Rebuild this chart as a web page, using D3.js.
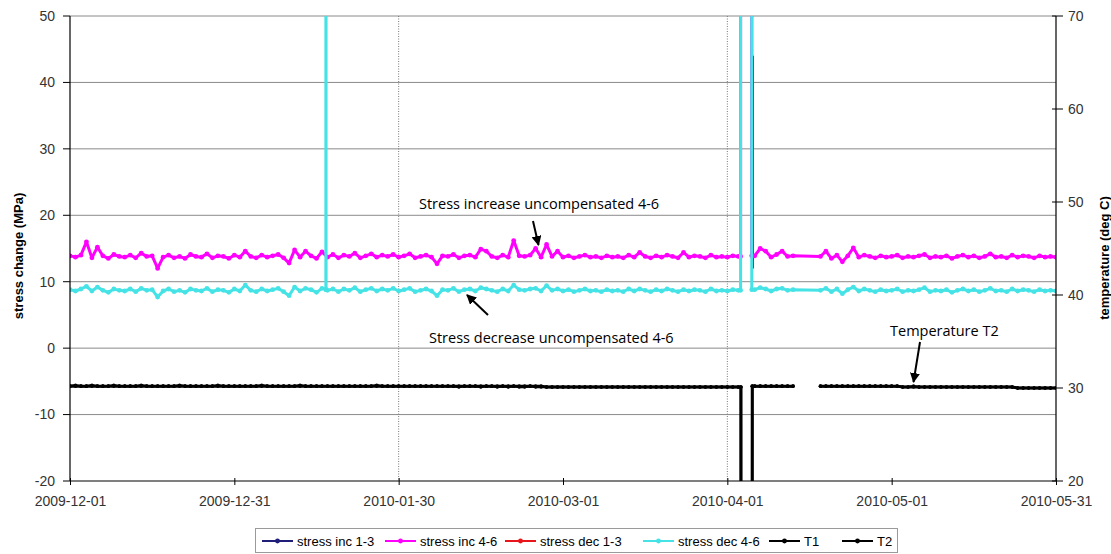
<!DOCTYPE html>
<html>
<head>
<meta charset="utf-8">
<script src="https://cdn.jsdelivr.net/npm/d3@7"></script>
<style>
  html, body { margin: 0; padding: 0; background: #fff; }
  svg { display: block; }
</style>
</head>
<body>
<svg id="chart" width="1111" height="554"></svg>
<script>
// ---------------- DATA ----------------
// x positions are days since 2009-12-01
const xTickDays = [0, 30, 60, 90, 120, 150, 180];
const xTickLabels = ["2009-12-01", "2009-12-31", "2010-01-30", "2010-03-01", "2010-04-01", "2010-05-01", "2010-05-31"];
const markerLineDays = [60, 120];               // dotted vertical reference lines
const leftTicks = [-20, -10, 0, 10, 20, 30, 40, 50];
const rightTicks = [20, 30, 40, 50, 60, 70];

const seriesNames = ["stress inc 1-3", "stress inc 4-6", "stress dec 1-3", "stress dec 4-6", "T1", "T2"];
const seriesColors = ["#1f1f7a", "#ff00ff", "#e8161b", "#45e3e6", "#000000", "#000000"];

// daily readings (MPa), day 0 .. 180, null = no reading
const stressInc46 = [
  13.9, 13.7, 14.0, 16.0, 13.6, 15.2, 13.9, 13.5, 14.1, 13.8,
  13.7, 14.0, 13.6, 14.3, 13.8, 13.9, 12.0, 13.7, 14.0, 13.6,
  13.8, 13.5, 14.1, 13.8, 13.7, 14.2, 13.6, 13.9, 13.8, 13.5,
  14.0, 13.7, 14.6, 13.8, 13.6, 14.0, 13.7, 13.9, 14.1, 13.6,
  12.8, 14.8, 13.7, 14.6, 13.9, 13.5, 14.5, 13.7, 14.1, 13.6,
  14.0, 13.8, 14.3, 13.6, 13.9, 14.2, 13.7, 14.0, 13.8, 14.1,
  13.7, 13.9, 14.2, 13.6, 13.8, 14.0, 13.7, 12.7, 13.9, 13.8,
  14.1, 13.6, 13.9, 14.0, 13.7, 14.9, 14.6, 13.8, 13.6, 14.0,
  13.7, 16.2, 13.9, 13.8, 14.0, 15.0, 13.7, 15.6, 13.8, 14.6,
  13.7, 13.9, 13.6, 13.8, 14.0, 13.7, 13.8, 13.6, 13.9, 13.7,
  13.8, 13.6, 14.0, 13.7, 14.4, 13.8, 13.6, 13.9, 13.7, 14.0,
  13.8, 13.6, 14.4, 13.7, 13.9, 13.8, 13.6, 14.0, 13.7, 13.8,
  13.7, 13.9, 13.8, null, null, 13.9, 15.0, 14.6, 13.7, 14.1,
  14.6, 13.8, 13.9, null, null, null, null, 13.8, 14.6, 13.5,
  14.0, 13.0, 13.9, 15.1, 13.7, 14.0, 13.8, 13.6, 13.9, 13.7,
  13.8, 14.0, 13.6, 13.8, 13.7, 13.9, 14.1, 13.6, 13.8, 13.7,
  13.9, 13.5, 13.8, 14.0, 13.7, 13.9, 13.6, 13.8, 14.2, 13.7,
  13.8, 13.6, 14.0, 13.7, 13.9, 13.8, 13.6, 13.9, 13.7, 13.8,
  13.7
];
const stressDec46 = [
  8.8, 8.6, 8.9, 9.3, 8.6, 9.2, 8.7, 8.4, 8.9, 8.7,
  8.6, 8.9, 8.5, 9.0, 8.7, 8.8, 7.7, 8.6, 8.9, 8.5,
  8.7, 8.4, 8.9, 8.7, 8.6, 9.0, 8.5, 8.8, 8.7, 8.4,
  8.9, 8.6, 9.5, 8.7, 8.5, 8.9, 8.6, 8.8, 9.0, 8.5,
  7.9, 9.2, 8.6, 9.0, 8.8, 8.4, 9.0, 8.7, 8.9, 8.5,
  8.9, 8.7, 9.1, 8.5, 8.8, 9.0, 8.6, 8.9, 8.7, 9.0,
  8.6, 8.8, 9.0, 8.5, 8.7, 8.9, 8.6, 7.9, 8.8, 8.7,
  9.0, 8.5, 8.8, 8.9, 8.6, 9.1, 8.9, 8.7, 8.5, 8.9,
  8.6, 9.5, 8.8, 8.7, 8.9, 9.0, 8.6, 9.4, 8.7, 8.9,
  8.6, 8.8, 8.5, 8.7, 8.9, 8.6, 8.7, 8.5, 8.8, 8.6,
  8.7, 8.5, 8.9, 8.6, 8.9, 8.7, 8.5, 8.8, 8.6, 8.9,
  8.7, 8.5, 8.8, 8.6, 8.8, 8.7, 8.5, 8.9, 8.6, 8.7,
  8.6, 8.8, 8.7, null, null, 8.8, 9.1, 8.9, 8.6, 8.9,
  9.0, 8.7, 8.8, null, null, null, null, 8.7, 9.0, 8.5,
  8.9, 8.2, 8.8, 9.2, 8.6, 8.9, 8.7, 8.5, 8.8, 8.6,
  8.7, 8.9, 8.5, 8.7, 8.6, 8.8, 9.1, 8.5, 8.7, 8.6,
  8.8, 8.4, 8.7, 8.9, 8.6, 8.8, 8.5, 8.7, 9.0, 8.6,
  8.7, 8.5, 8.9, 8.6, 8.8, 8.7, 8.5, 8.8, 8.6, 8.7,
  8.6
];
// temperatures (deg C), day 0 .. 180
const tempT1 = [
  30.2, 30.2, 30.2, 30.2, 30.2, 30.2, 30.2, 30.2, 30.2, 30.2,
  30.2, 30.2, 30.2, 30.2, 30.2, 30.2, 30.2, 30.2, 30.2, 30.2,
  30.2, 30.2, 30.2, 30.2, 30.2, 30.2, 30.2, 30.2, 30.2, 30.2,
  30.2, 30.2, 30.2, 30.2, 30.2, 30.2, 30.2, 30.2, 30.2, 30.2,
  30.2, 30.2, 30.2, 30.2, 30.2, 30.2, 30.2, 30.2, 30.2, 30.2,
  30.2, 30.2, 30.2, 30.2, 30.2, 30.2, 30.2, 30.2, 30.2, 30.2,
  30.2, 30.2, 30.2, 30.2, 30.2, 30.2, 30.2, 30.2, 30.2, 30.2,
  30.2, 30.2, 30.2, 30.2, 30.2, 30.2, 30.2, 30.2, 30.2, 30.2,
  30.2, 30.2, 30.2, 30.2, 30.2, 30.2, 30.2, 30.1, 30.1, 30.1,
  30.1, 30.1, 30.1, 30.1, 30.1, 30.1, 30.1, 30.1, 30.1, 30.1,
  30.1, 30.1, 30.1, 30.1, 30.1, 30.1, 30.1, 30.1, 30.1, 30.1,
  30.1, 30.1, 30.1, 30.1, 30.1, 30.1, 30.1, 30.1, 30.1, 30.1,
  30.1, 30.1, 30.1, null, null, 30.2, 30.2, 30.2, 30.2, 30.2,
  30.2, 30.2, 30.2, null, null, null, null, 30.2, 30.2, 30.2,
  30.2, 30.2, 30.2, 30.2, 30.2, 30.2, 30.2, 30.2, 30.2, 30.2,
  30.2, 30.2, 30.1, 30.1, 30.1, 30.1, 30.1, 30.1, 30.1, 30.1,
  30.1, 30.1, 30.1, 30.1, 30.1, 30.1, 30.1, 30.1, 30.1, 30.1,
  30.1, 30.1, 30.1, 30.0, 30.0, 30.0, 30.0, 30.0, 30.0, 30.0,
  30.0
];
const tempT2 = [
  30.2, 30.3, 30.2, 30.2, 30.3, 30.2, 30.2, 30.2, 30.3, 30.2,
  30.2, 30.2, 30.2, 30.3, 30.2, 30.2, 30.2, 30.2, 30.2, 30.2,
  30.3, 30.2, 30.2, 30.2, 30.2, 30.2, 30.2, 30.3, 30.2, 30.2,
  30.2, 30.2, 30.2, 30.2, 30.2, 30.3, 30.2, 30.2, 30.2, 30.2,
  30.2, 30.2, 30.3, 30.2, 30.2, 30.2, 30.2, 30.2, 30.2, 30.2,
  30.2, 30.2, 30.2, 30.2, 30.2, 30.2, 30.3, 30.2, 30.2, 30.2,
  30.2, 30.2, 30.2, 30.2, 30.2, 30.2, 30.2, 30.2, 30.2, 30.2,
  30.2, 30.1, 30.2, 30.2, 30.2, 30.1, 30.2, 30.2, 30.1, 30.2,
  30.1, 30.2, 30.1, 30.1, 30.2, 30.1, 30.1, 30.1, 30.1, 30.1,
  30.1, 30.1, 30.1, 30.1, 30.1, 30.1, 30.1, 30.1, 30.1, 30.1,
  30.1, 30.1, 30.1, 30.1, 30.1, 30.1, 30.1, 30.1, 30.1, 30.1,
  30.1, 30.1, 30.1, 30.1, 30.1, 30.1, 30.1, 30.1, 30.1, 30.1,
  30.1, 30.1, 30.1, null, null, 30.2, 30.2, 30.2, 30.2, 30.2,
  30.2, 30.2, 30.2, null, null, null, null, 30.2, 30.2, 30.2,
  30.2, 30.2, 30.2, 30.2, 30.2, 30.2, 30.2, 30.2, 30.2, 30.2,
  30.2, 30.2, 30.1, 30.1, 30.2, 30.1, 30.1, 30.1, 30.1, 30.1,
  30.1, 30.1, 30.1, 30.1, 30.1, 30.1, 30.1, 30.1, 30.1, 30.1,
  30.1, 30.1, 30.1, 30.0, 30.0, 30.0, 30.0, 30.0, 30.0, 30.0,
  30.0
];
// short out-of-range excursions: [day, value]
const spikesInc46 = [[122.42, 13.8], [122.44, 400], [124.44, 400], [124.46, 13.9]];
const spikesDec46 = [[46.71, 8.8], [46.73, 400], [46.75, 8.8],
                     [122.42, 8.7], [122.44, 400], [124.44, 400], [124.46, 8.8]];
const spikesInc13 = [[124.72, 44], [124.72, 12]];
const spikesDec13 = [];
const dropsT1 = [[122.48, 30.1], [122.5, 0], [124.53, 0], [124.55, 30.2]];
const dropsT2 = [[122.48, 30.1], [122.5, 0], [124.53, 0], [124.55, 30.2]];

const annotations = [
  { text: "Stress increase uncompensated 4-6", tx: 419, ty: 209, from: [533, 221], to: [538.5, 245] },
  { text: "Stress decrease uncompensated 4-6", tx: 429, ty: 343, from: [488, 315], to: [467, 295] },
  { text: "Temperature T2", tx: 890, ty: 336, from: [920, 342], to: [913.5, 382] }
];

// ---------------- CHART ----------------
const L = 70, R = 1056, T = 16, B = 481;
const legendItemX = [262, 385, 505, 643, 769, 842];
const svg = d3.select("#chart");
const x = d3.scaleLinear().domain([0, 180]).range([L, R]);
const yL = d3.scaleLinear().domain([-20, 50]).range([B, T]);
const yR = d3.scaleLinear().domain([20, 70]).range([B, T]);
const AX_FONT = "'Liberation Sans', Arial, sans-serif";

const defs = svg.append("defs");
defs.append("clipPath").attr("id", "plotclip")
  .append("rect").attr("x", L).attr("y", T).attr("width", R - L).attr("height", B - T);
defs.append("marker").attr("id", "arrow").attr("viewBox", "0 0 10 10")
  .attr("refX", 9).attr("refY", 5).attr("markerWidth", 5).attr("markerHeight", 5)
  .attr("orient", "auto").attr("markerUnits", "strokeWidth")
  .append("path").attr("d", "M0,0 L10,5 L0,10 z").attr("fill", "#000");

// horizontal gridlines
svg.append("g").selectAll("line").data(leftTicks.filter(d => d > -20)).join("line")
  .attr("x1", L).attr("x2", R).attr("y1", d => yL(d)).attr("y2", d => yL(d))
  .attr("stroke", "#8a8a8a").attr("stroke-width", 1);

// dotted vertical reference lines
svg.append("g").selectAll("line").data(markerLineDays).join("line")
  .attr("x1", d => x(d)).attr("x2", d => x(d)).attr("y1", T).attr("y2", B)
  .attr("stroke", "#777").attr("stroke-width", 1).attr("stroke-dasharray", "1,1.5");

// series builder
function dailyPoints(arr) { return arr.map((v, i) => ({ x: i, y: v })); }
function merge(arr, extra) {
  return dailyPoints(arr).concat(extra.map(p => ({ x: p[0], y: p[1] }))).sort((a, b) => a.x - b.x);
}
const plot = svg.append("g").attr("clip-path", "url(#plotclip)");

function drawSeries(points, color, connectGaps, scale, width, r) {
  const pts = connectGaps ? points.filter(p => p.y !== null) : points;
  const line = d3.line().defined(p => p.y !== null).x(p => x(p.x)).y(p => scale(p.y));
  plot.append("path").datum(pts).attr("d", line).attr("fill", "none")
    .attr("stroke", color).attr("stroke-width", width).attr("stroke-linejoin", "round");
  plot.append("g").selectAll("circle").data(pts.filter(p => p.y !== null && p.y < 100 && p.y > 5)).join("circle")
    .attr("cx", p => x(p.x)).attr("cy", p => scale(p.y)).attr("r", r).attr("fill", color);
}

drawSeries(spikesInc13.map(p => ({ x: p[0], y: p[1] })), seriesColors[0], true, yL, 1.5, 0);
drawSeries(merge(stressInc46, spikesInc46), seriesColors[1], true, yL, 3, 2.4);
drawSeries(spikesDec13.map(p => ({ x: p[0], y: p[1] })), seriesColors[2], true, yL, 2, 0);
drawSeries(merge(stressDec46, spikesDec46), seriesColors[3], true, yL, 3, 2.4);
drawSeries(merge(tempT1, dropsT1), seriesColors[4], false, yR, 3, 1.8);
drawSeries(merge(tempT2, dropsT2), seriesColors[5], false, yR, 2.5, 1.8);

// axes lines
svg.append("line").attr("x1", L).attr("x2", L).attr("y1", T).attr("y2", B).attr("stroke", "#000").attr("stroke-width", 1.2);
svg.append("line").attr("x1", R).attr("x2", R).attr("y1", T).attr("y2", B).attr("stroke", "#000").attr("stroke-width", 1.2);
svg.append("line").attr("x1", L).attr("x2", R).attr("y1", B).attr("y2", B).attr("stroke", "#000").attr("stroke-width", 1.2);

// left axis ticks + labels
const gl = svg.append("g");
gl.selectAll("line").data(leftTicks).join("line")
  .attr("x1", L - 7).attr("x2", L).attr("y1", d => yL(d)).attr("y2", d => yL(d)).attr("stroke", "#000");
gl.selectAll("text").data(leftTicks).join("text")
  .attr("x", 55).attr("y", d => yL(d)).attr("dy", "0.35em").attr("text-anchor", "end")
  .attr("font-family", AX_FONT).attr("font-size", 14).attr("fill", "#333").text(d => d);

// right axis ticks + labels
const gr = svg.append("g");
gr.selectAll("line").data(rightTicks).join("line")
  .attr("x1", R - 4).attr("x2", R + 7).attr("y1", d => yR(d)).attr("y2", d => yR(d)).attr("stroke", "#000");
gr.selectAll("text").data(rightTicks).join("text")
  .attr("x", 1068).attr("y", d => yR(d)).attr("dy", "0.35em").attr("text-anchor", "start")
  .attr("font-family", AX_FONT).attr("font-size", 14).attr("fill", "#333").text(d => d);

// bottom axis
const xAxis = d3.axisBottom(x).tickValues(xTickDays).tickSize(5).tickPadding(10)
  .tickFormat((d, i) => xTickLabels[i]);
const gx = svg.append("g").attr("transform", `translate(0,${B})`).call(xAxis);
gx.select(".domain").remove();
gx.selectAll(".tick line").attr("y1", -3).attr("y2", 4).attr("stroke", "#000");
gx.selectAll(".tick text").attr("font-family", AX_FONT).attr("font-size", 14).attr("fill", "#333");

// axis titles
svg.append("text").attr("transform", "translate(23,256) rotate(-90)").attr("text-anchor", "middle")
  .attr("font-family", AX_FONT).attr("font-weight", "bold").attr("font-size", 13).attr("fill", "#000")
  .text("stress change (MPa)");
svg.append("text").attr("transform", "translate(1104,258) rotate(-90)").attr("text-anchor", "middle")
  .attr("dy", "0.35em")
  .attr("font-family", AX_FONT).attr("font-weight", "bold").attr("font-size", 13).attr("fill", "#000")
  .text("temperature (deg C)");

// annotations
const ga = svg.append("g");
annotations.forEach(a => {
  ga.append("text").attr("x", a.tx).attr("y", a.ty)
    .attr("font-family", "'Open Sans', Lato, sans-serif").attr("font-size", 14.5).attr("fill", "#000").text(a.text);
  ga.append("line").attr("x1", a.from[0]).attr("y1", a.from[1]).attr("x2", a.to[0]).attr("y2", a.to[1])
    .attr("stroke", "#000").attr("stroke-width", 2).attr("marker-end", "url(#arrow)");
});

// legend
const leg = svg.append("g");
leg.append("rect").attr("x", 255.5).attr("y", 528.5).attr("width", 642).attr("height", 24)
  .attr("fill", "#fff").attr("stroke", "#9a9a9a");
const ly = 541;
seriesNames.forEach((name, i) => {
  const lx = legendItemX[i];
  const g = leg.append("g");
  g.append("line").attr("x1", lx).attr("x2", lx + 31).attr("y1", ly).attr("y2", ly)
    .attr("stroke", seriesColors[i]).attr("stroke-width", 2);
  g.append("circle").attr("cx", lx + 15.5).attr("cy", ly).attr("r", 2.4).attr("fill", seriesColors[i]);
  g.append("text").attr("x", lx + 35).attr("y", ly).attr("dy", "0.35em")
    .attr("font-family", AX_FONT).attr("font-size", 13).attr("fill", "#000").text(name);
});
</script>
</body>
</html>
